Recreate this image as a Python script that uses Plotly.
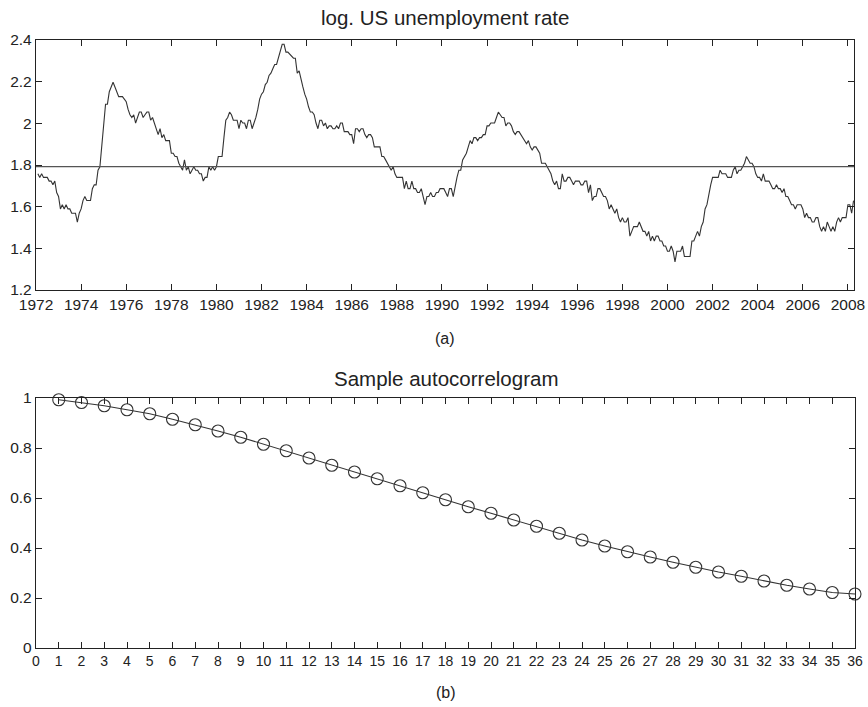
import numpy as np
import plotly.graph_objects as go

# Monthly US unemployment rate (%), Jan 1972 .. Mar 2008 (plotted as log)
start_year = 1972
unemp_rate = [
    5.8, 5.7, 5.8, 5.7, 5.7, 5.7, 5.6, 5.6, 5.5, 5.6, 5.3, 5.2,   # 1972
    4.9, 5.0, 4.9, 5.0, 4.9, 4.9, 4.8, 4.8, 4.8, 4.6, 4.8, 4.9,   # 1973
    5.1, 5.2, 5.1, 5.1, 5.1, 5.4, 5.5, 5.5, 5.9, 6.0, 6.6, 7.2,   # 1974
    8.1, 8.1, 8.6, 8.8, 9.0, 8.8, 8.6, 8.4, 8.4, 8.4, 8.3, 8.2,   # 1975
    7.9, 7.7, 7.6, 7.7, 7.4, 7.6, 7.8, 7.8, 7.6, 7.7, 7.8, 7.8,   # 1976
    7.5, 7.6, 7.4, 7.2, 7.0, 7.2, 6.9, 7.0, 6.8, 6.8, 6.8, 6.4,   # 1977
    6.4, 6.3, 6.3, 6.1, 6.0, 5.9, 6.2, 5.9, 6.0, 5.8, 5.9, 6.0,   # 1978
    5.9, 5.9, 5.8, 5.8, 5.6, 5.7, 5.7, 6.0, 5.9, 6.0, 5.9, 6.0,   # 1979
    6.3, 6.3, 6.3, 6.9, 7.5, 7.6, 7.8, 7.7, 7.5, 7.5, 7.5, 7.2,   # 1980
    7.5, 7.4, 7.4, 7.2, 7.5, 7.5, 7.2, 7.4, 7.6, 7.9, 8.3, 8.5,   # 1981
    8.6, 8.9, 9.0, 9.3, 9.4, 9.6, 9.8, 9.8, 10.1, 10.4, 10.8, 10.8,  # 1982
    10.4, 10.4, 10.3, 10.2, 10.1, 10.1, 9.4, 9.5, 9.2, 8.8, 8.5, 8.3,  # 1983
    8.0, 7.8, 7.8, 7.7, 7.4, 7.2, 7.5, 7.5, 7.3, 7.4, 7.2, 7.3,   # 1984
    7.3, 7.2, 7.2, 7.3, 7.2, 7.4, 7.4, 7.1, 7.1, 7.1, 7.0, 7.0,   # 1985
    6.7, 7.2, 7.2, 7.1, 7.2, 7.2, 7.0, 6.9, 7.0, 7.0, 6.9, 6.6,   # 1986
    6.6, 6.6, 6.6, 6.3, 6.3, 6.2, 6.1, 6.0, 5.9, 6.0, 5.8, 5.7,   # 1987
    5.7, 5.7, 5.7, 5.4, 5.6, 5.4, 5.4, 5.6, 5.4, 5.4, 5.3, 5.3,   # 1988
    5.4, 5.2, 5.0, 5.2, 5.2, 5.3, 5.2, 5.2, 5.3, 5.3, 5.4, 5.4,   # 1989
    5.4, 5.3, 5.2, 5.4, 5.4, 5.2, 5.5, 5.7, 5.9, 5.9, 6.2, 6.3,   # 1990
    6.4, 6.6, 6.8, 6.7, 6.9, 6.9, 6.8, 6.9, 6.9, 7.0, 7.0, 7.3,   # 1991
    7.3, 7.4, 7.4, 7.4, 7.6, 7.8, 7.7, 7.6, 7.6, 7.3, 7.4, 7.4,   # 1992
    7.3, 7.1, 7.0, 7.1, 7.1, 7.0, 6.9, 6.8, 6.7, 6.8, 6.6, 6.5,   # 1993
    6.6, 6.6, 6.5, 6.4, 6.1, 6.1, 6.1, 6.0, 5.9, 5.8, 5.6, 5.5,   # 1994
    5.6, 5.4, 5.4, 5.8, 5.6, 5.6, 5.7, 5.7, 5.6, 5.5, 5.6, 5.6,   # 1995
    5.6, 5.5, 5.5, 5.6, 5.6, 5.3, 5.5, 5.1, 5.2, 5.2, 5.4, 5.4,   # 1996
    5.3, 5.2, 5.2, 5.1, 4.9, 5.0, 4.9, 4.8, 4.9, 4.7, 4.6, 4.7,   # 1997
    4.6, 4.6, 4.7, 4.3, 4.4, 4.5, 4.5, 4.5, 4.6, 4.5, 4.4, 4.4,   # 1998
    4.3, 4.4, 4.2, 4.3, 4.2, 4.3, 4.3, 4.2, 4.2, 4.1, 4.1, 4.0,   # 1999
    4.0, 4.1, 4.0, 3.8, 4.0, 4.0, 4.0, 4.1, 3.9, 3.9, 3.9, 3.9,   # 2000
    4.2, 4.2, 4.3, 4.4, 4.3, 4.5, 4.6, 4.9, 5.0, 5.3, 5.5, 5.7,   # 2001
    5.7, 5.7, 5.7, 5.9, 5.8, 5.8, 5.8, 5.7, 5.7, 5.7, 5.9, 6.0,   # 2002
    5.8, 5.9, 5.9, 6.0, 6.1, 6.3, 6.2, 6.1, 6.1, 6.0, 5.8, 5.7,   # 2003
    5.7, 5.6, 5.8, 5.6, 5.6, 5.6, 5.5, 5.4, 5.4, 5.5, 5.4, 5.4,   # 2004
    5.3, 5.4, 5.2, 5.2, 5.1, 5.0, 5.0, 4.9, 5.0, 5.0, 5.0, 4.9,   # 2005
    4.7, 4.8, 4.7, 4.7, 4.6, 4.6, 4.7, 4.7, 4.5, 4.4, 4.5, 4.4,   # 2006
    4.6, 4.5, 4.4, 4.5, 4.4, 4.6, 4.7, 4.6, 4.7, 4.7, 4.7, 5.0,   # 2007
    5.0, 4.8, 5.1,                                                # 2008
]
mean_log_level = 1.792

year_ticks = list(range(1972, 2009, 2))
level_ticks = [1.2, 1.4, 1.6, 1.8, 2.0, 2.2, 2.4]
level_ticktext = ["1.2", "1.4", "1.6", "1.8", "2", "2.2", "2.4"]

# Sample autocorrelations, lags 1..36
lags = list(range(1, 37))
acf = [0.993, 0.982, 0.969, 0.953, 0.937, 0.915, 0.893, 0.868, 0.843, 0.815,
       0.789, 0.760, 0.731, 0.704, 0.677, 0.649, 0.621, 0.593, 0.565, 0.539,
       0.512, 0.487, 0.459, 0.432, 0.408, 0.385, 0.364, 0.343, 0.323, 0.304,
       0.287, 0.268, 0.251, 0.236, 0.222, 0.216]
lag_ticks = list(range(0, 37))
acf_ticks = [0, 0.2, 0.4, 0.6, 0.8, 1.0]
acf_ticktext = ["0", "0.2", "0.4", "0.6", "0.8", "1"]

# ---------------------------------------------------------------
W, H = 868, 707
LINE = "#333333"
AX = "#222222"
FONT = "Liberation Sans, Arial, Helvetica, sans-serif"

months = np.arange(len(unemp_rate))
t = start_year + (months + 1) / 12.0
log_rate = np.log(np.array(unemp_rate))


def px_x(p):
    return p / W


def px_y(p):
    return (H - p) / H


fig = go.Figure()
fig.add_trace(go.Scatter(x=t, y=log_rate, mode="lines",
                         line=dict(color=LINE, width=1.1),
                         xaxis="x", yaxis="y", showlegend=False))
fig.add_trace(go.Scatter(x=[1972, 2008.27], y=[mean_log_level, mean_log_level],
                         mode="lines", line=dict(color="#555555", width=1.1),
                         xaxis="x", yaxis="y", showlegend=False))
fig.add_trace(go.Scatter(x=lags, y=acf, mode="lines+markers",
                         line=dict(color=LINE, width=1.1),
                         marker=dict(symbol="circle-open", size=12,
                                     color=LINE, line=dict(width=1.1, color=LINE)),
                         cliponaxis=False,
                         xaxis="x2", yaxis="y2", showlegend=False))

axis_common = dict(showline=True, linecolor=AX, linewidth=1.2, mirror="ticks",
                   ticks="inside", ticklen=6, tickwidth=1, tickcolor=AX,
                   showgrid=False, zeroline=False, automargin=False,
                   tickfont=dict(family=FONT, size=15.5, color="#222222"))

fig.update_layout(
    width=W, height=H,
    margin=dict(l=0, r=0, t=0, b=0, autoexpand=False),
    paper_bgcolor="white", plot_bgcolor="white",
    font=dict(family=FONT, color="#222222"),
    xaxis=dict(domain=[px_x(36), px_x(854)], range=[1972, 2008.27],
               tickmode="array", tickvals=year_ticks, anchor="y",
               **axis_common),
    yaxis=dict(domain=[px_y(290), px_y(40)], range=[1.2, 2.4],
               tickmode="array", tickvals=level_ticks, ticktext=level_ticktext,
               anchor="x", **axis_common),
    xaxis2=dict(domain=[px_x(36), px_x(855)], range=[0, 36],
                tickmode="array", tickvals=lag_ticks, anchor="y2",
                **{**axis_common, "tickfont": dict(family=FONT, size=14, color="#222222")}),
    yaxis2=dict(domain=[px_y(648), px_y(398)], range=[0, 1],
                tickmode="array", tickvals=acf_ticks, ticktext=acf_ticktext,
                anchor="x2", **axis_common),
)

annots = [
    ("log. US unemployment rate", 445, 17, 20.5),
    ("(a)", 445, 338, 16),
    ("Sample autocorrelogram", 446, 378, 20.5),
    ("(b)", 446, 692, 16),
]
for text, x, y, size in annots:
    fig.add_annotation(text=text, x=px_x(x), y=px_y(y), xref="paper", yref="paper",
                       xanchor="center", yanchor="middle", showarrow=False,
                       font=dict(family=FONT, size=size, color="#222222"))

fig.write_html("out.html",
               config={"displayModeBar": False, "staticPlot": True},
               post_script="document.body.style.margin='0';"
                           "document.body.style.overflow='hidden';")
